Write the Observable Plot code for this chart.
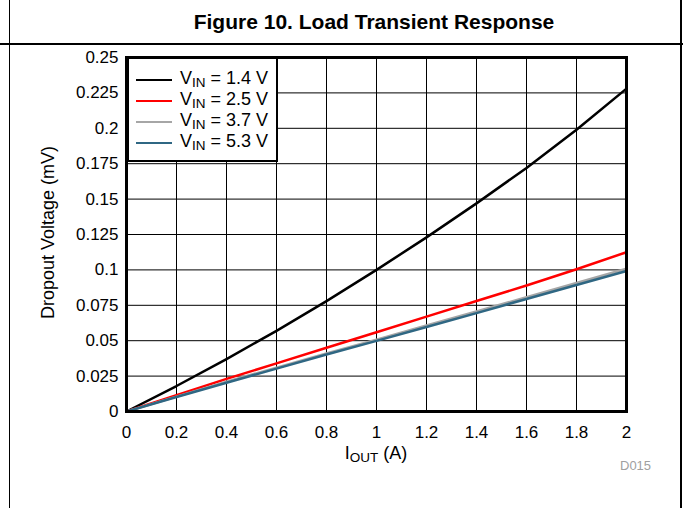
<!DOCTYPE html>
<html>
<head>
<meta charset="utf-8">
<script src="https://cdn.jsdelivr.net/npm/d3@7"></script>
<script src="https://cdn.jsdelivr.net/npm/@observablehq/plot@0.6"></script>
<style>
  html, body { margin: 0; padding: 0; background: #fff; }
  #wrap { position: relative; width: 683px; height: 508px; overflow: hidden; font-family: "Liberation Sans", Arial, sans-serif; }
  #chart { position: absolute; left: 0; top: 0; }
  .bl { position: absolute; background: #000; }
  #title { position: absolute; left: 124px; width: 500px; top: 10px; text-align: center; font-weight: bold; font-size: 21px; }
  #legend { position: absolute; left: 127px; top: 57px; width: 151px; height: 105px; border: 2px solid #000; background: #fff; box-sizing: border-box; }
  .li { position: absolute; left: 0; height: 21px; width: 148px; font-size: 18px; }
  .li .sw { position: absolute; left: 7px; top: 11px; width: 36px; height: 0; border-top: 2.5px solid #000; }
  .li .tx { position: absolute; left: 51px; top: 0px; white-space: nowrap; }
  sub { font-size: 0.75em; vertical-align: -0.25em; line-height: 0; }
  #xlab { position: absolute; left: 276px; width: 200px; top: 443px; text-align: center; font-size: 18px; }
  #ylab { position: absolute; left: -52px; width: 200px; top: 222px; text-align: center; font-size: 18px; transform: rotate(-90deg); white-space: nowrap; }
  #code { position: absolute; left: 620px; top: 458px; font-size: 13px; color: #a0a0a0; }
</style>
</head>
<body>
<div id="wrap">
  <div class="bl" style="left:8.5px;top:0;width:1.5px;height:508px"></div>
  <div class="bl" style="left:680px;top:0;width:1.5px;height:508px"></div>
  <div class="bl" style="left:0;top:43px;width:683px;height:1.5px"></div>
  <div id="title"></div>
  <div id="chart"></div>
  <div id="legend"></div>
  <div id="xlab">I<sub>OUT</sub> (A)</div>
  <div id="ylab"></div>
  <div id="code">D015</div>
</div>
<script>
const titleText = "Figure 10. Load Transient Response";
const yLabel = "Dropout Voltage (mV)";
const iout = [0, 0.2, 0.4, 0.6, 0.8, 1.0, 1.2, 1.4, 1.6, 1.8, 2.0];
const v14 = [0, 0.018, 0.037, 0.057, 0.078, 0.100, 0.123, 0.147, 0.172, 0.199, 0.228];
const v25 = [0, 0.0115, 0.023, 0.034, 0.045, 0.056, 0.067, 0.078, 0.089, 0.1005, 0.1125];
const v37 = [0, 0.0105, 0.021, 0.031, 0.041, 0.0507, 0.0607, 0.0707, 0.0807, 0.0907, 0.1008];
const v53 = [0, 0.0102, 0.0203, 0.0303, 0.0402, 0.0499, 0.0597, 0.0695, 0.0795, 0.0893, 0.0992];
const seriesNames = ["1.4 V", "2.5 V", "3.7 V", "5.3 V"];
const seriesValues = [v14, v25, v37, v53];
const seriesColors = ["#000000", "#ff0000", "#a6a6a6", "#2f6783"];
const xTicks = [0, 0.2, 0.4, 0.6, 0.8, 1, 1.2, 1.4, 1.6, 1.8, 2];
const yTicks = [0, 0.025, 0.05, 0.075, 0.1, 0.125, 0.15, 0.175, 0.2, 0.225, 0.25];

document.getElementById("title").textContent = titleText;
document.getElementById("ylab").textContent = yLabel;

const rows = [];
seriesNames.forEach((s, i) => iout.forEach((x, j) => rows.push({ series: s, x, y: seriesValues[i][j] })));

const chart = Plot.plot({
  width: 683,
  height: 508,
  marginLeft: 126,
  marginRight: 57,
  marginTop: 57,
  marginBottom: 97,
  style: { fontFamily: "Liberation Sans, Arial, sans-serif", fontSize: "17px", color: "#000", background: "transparent" },
  x: { domain: [0, 2], ticks: xTicks, tickFormat: d => String(d), tickSize: 0, tickPadding: 14, label: null },
  y: { domain: [0, 0.25], ticks: yTicks, tickFormat: d => String(d), tickSize: 0, tickPadding: 8, label: null },
  color: { domain: seriesNames, range: seriesColors },
  marks: [
    Plot.gridX(xTicks, { stroke: "#000", strokeOpacity: 1, strokeWidth: 1 }),
    Plot.gridY(yTicks, { stroke: "#000", strokeOpacity: 1, strokeWidth: 1 }),
    Plot.line(rows, { x: "x", y: "y", z: "series", stroke: "series", strokeWidth: 2.5 }),
    Plot.frame({ stroke: "#000", strokeWidth: 3 })
  ]
});
document.getElementById("chart").appendChild(chart);

const legend = document.getElementById("legend");
seriesNames.forEach((s, i) => {
  const d = document.createElement("div");
  d.className = "li";
  d.style.top = (9 + i * 21) + "px";
  d.innerHTML = `<span class="sw" style="border-top-color:${seriesColors[i]}"></span><span class="tx">V<sub>IN</sub> = ${s}</span>`;
  legend.appendChild(d);
});
</script>
</body>
</html>
